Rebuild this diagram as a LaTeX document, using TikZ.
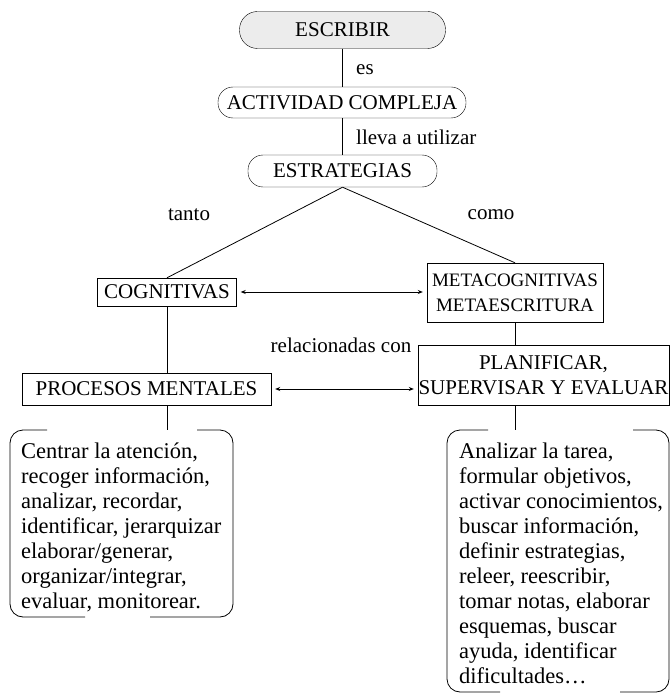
\documentclass[tikz,border=0pt]{standalone}
\usepackage{fontspec}
\setmainfont{Liberation Serif}
\usetikzlibrary{arrows.meta}
\tikzset{
  base/.style={draw, inner sep=0pt, align=center, font=\fontsize{21}{25}\selectfont},
  rbox/.style={base, rounded corners=15pt},
  sbox/.style={base},
  lbl/.style={inner sep=0pt, font=\fontsize{21}{24}\selectfont},
  conn/.style={line width=0.8pt},
  dbl/.style={line width=0.8pt, {Stealth[length=5pt,width=4pt]}-{Stealth[length=5pt,width=4pt]}, shorten <=4pt, shorten >=4pt},
  brk/.style={line width=0.8pt, rounded corners=13pt},
  brtext/.style={inner sep=0pt, align=left, anchor=north west, font=\fontsize{22.5}{25}\selectfont}
}
\begin{document}
\begin{tikzpicture}[x=1pt,y=-1pt]
\useasboundingbox (0,0) rectangle (670,695);
\node[rbox, fill=gray!15, rounded corners=18pt, minimum width=206pt, minimum height=37pt] (esc) at (342.5,30) {ESCRIBIR};
\node[rbox, minimum width=248pt, minimum height=31pt] (act) at (342,102.5) {ACTIVIDAD COMPLEJA};
\node[rbox, minimum width=189pt, minimum height=32pt] (estr) at (342.5,171) {ESTRATEGIAS};
\node[sbox, minimum width=139pt, minimum height=28pt] (cog) at (167,292) {COGNITIVAS};
\node[sbox, minimum width=176pt, minimum height=59pt, font=\fontsize{19}{25}\selectfont] (meta) at (515,292.5) {METACOGNITIVAS\\METAESCRITURA};
\node[sbox, minimum width=251pt, minimum height=60pt] (plan) at (543.5,375) {PLANIFICAR,\\SUPERVISAR Y EVALUAR};
\node[sbox, minimum width=249pt, minimum height=32pt] (proc) at (146.5,389) {PROCESOS MENTALES};
% bracket texts
\node[brtext] (ltxt) at (21,443) {Centrar la atención,\\recoger información,\\analizar, recordar,\\identificar, jerarquizar\\elaborar/generar,\\organizar/integrar,\\evaluar, monitorear.};
\node[brtext] (rtxt) at (459,443) {Analizar la tarea,\\formular objetivos,\\activar conocimientos,\\buscar información,\\definir estrategias,\\releer, reescribir,\\tomar notas, elaborar\\esquemas, buscar\\ayuda, identificar\\dificultades…};
% bracket frames
\coordinate (lnw) at (10,430); \coordinate (lse) at (233,617);
\coordinate (rnw) at (447,430); \coordinate (rse) at (669,692);
\draw[brk] (47,430) -- (lnw) -- (lnw |- lse) -- (85,617);
\draw[brk] (197,430) -- (lse |- lnw) -- (lse) -- (150,617);
\draw[brk] (488,430) -- (rnw) -- (rnw |- rse) -- (500,692);
\draw[brk] (633,430) -- (rse |- rnw) -- (rse) -- (620,692);
% connectors
\draw[conn] (esc.south) -- (esc.south |- act.north);
\draw[conn] (esc.south |- act.south) -- (esc.south |- estr.north);
\node[lbl, anchor=west] (es) at (356,70) {es};
\node[lbl, anchor=west] (lleva) at (356,137) {lleva a utilizar};
\draw[conn] (estr.south) -- (cog.north);
\draw[conn] (estr.south) -- (meta.north);
\node[lbl] (tanto) at (189,215) {tanto};
\node[lbl] (como) at (491,215) {como};
\draw[dbl] (cog.east) -- (cog.east -| meta.west);
\draw[conn] (cog.south) -- (cog.south |- proc.north);
\draw[conn] (meta.south) -- (meta.south |- plan.north);
\node[lbl] (rel) at (341,345) {relacionadas con};
\draw[dbl] (proc.east) -- (proc.east -| plan.west);
\draw[conn] (cog.south |- proc.south) -- (cog.south |- lnw);
\draw[conn] (meta.south |- plan.south) -- (meta.south |- rnw);
\end{tikzpicture}
\end{document}
